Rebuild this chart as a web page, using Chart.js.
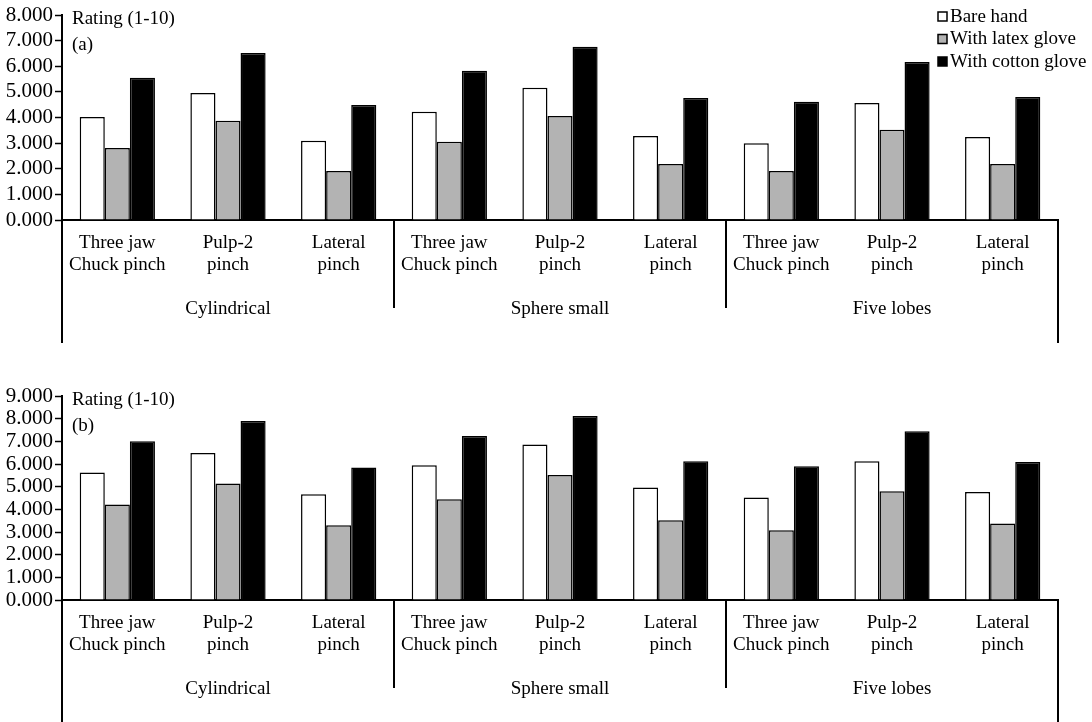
<!DOCTYPE html>
<html lang="en">
<head>
<meta charset="UTF-8">
<title>Rating (1-10)</title>
<script src="https://cdn.jsdelivr.net/npm/chart.js@4"></script>
<style>
  body { margin: 0; background: #fff; }
  canvas { display: block; }
</style>
</head>
<body>
<canvas id="chartA" width="1092" height="360"></canvas>
<canvas id="chartB" width="1092" height="362"></canvas>
<script>
    // grip types, repeated under each object
    const grips = [['Three jaw', 'Chuck pinch'], ['Pulp-2', 'pinch'], ['Lateral', 'pinch']];
    const objects = ['Cylindrical', 'Sphere small', 'Five lobes'];
    const seriesNames = ['Bare hand', 'With latex glove', 'With cotton glove'];

    // panel (a)
    const bareA   = [4.02, 4.96, 3.09, 4.22, 5.16, 3.28, 3.00, 4.57, 3.24];
    const latexA  = [2.81, 3.87, 1.91, 3.05, 4.06, 2.19, 1.91, 3.52, 2.19];
    const cottonA = [5.55, 6.52, 4.49, 5.82, 6.76, 4.76, 4.61, 6.17, 4.80];

    // panel (b)
    const bareB   = [5.63, 6.49, 4.66, 5.95, 6.86, 4.96, 4.52, 6.12, 4.77];
    const latexB  = [4.21, 5.14, 3.30, 4.45, 5.51, 3.52, 3.08, 4.80, 3.38];
    const cottonB = [7.00, 7.90, 5.85, 7.24, 8.12, 6.12, 5.90, 7.44, 6.09];

    const yMaxA = 8;
    const yMaxB = 9;

    const fills = ['#ffffff', '#b3b3b3', '#000000'];
    const labels = objects.flatMap(() => grips);
    const FONT = '"Liberation Serif", "Times New Roman", serif';

    // extra drawing: group names, dividers, panel caption, legend
    const decorations = {
        id: 'decorations',
        afterDraw(chart, args, opts) {
            const ctx = chart.ctx;
            const a = chart.chartArea;
            const x = chart.scales.x;
            ctx.save();
            ctx.strokeStyle = '#000';
            ctx.lineWidth = 2;
            ctx.beginPath();
            ctx.moveTo(a.left, a.bottom);
            ctx.lineTo(a.left, a.bottom + opts.outerDrop);
            ctx.moveTo(a.right, a.bottom);
            ctx.lineTo(a.right, a.bottom + opts.outerDrop);
            [3, 6].forEach(i => {
                const px = Math.round((x.getPixelForValue(i - 1) + x.getPixelForValue(i)) / 2);
                ctx.moveTo(px, a.bottom);
                ctx.lineTo(px, a.bottom + 88);
            });
            ctx.stroke();

            ctx.fillStyle = '#000';
            ctx.font = '19px ' + FONT;
            ctx.textAlign = 'center';
            ctx.textBaseline = 'middle';
            objects.forEach((name, g) => {
                ctx.fillText(name, x.getPixelForValue(g * 3 + 1), a.bottom + 89);
            });

            ctx.textAlign = 'left';
            ctx.fillText('Rating (1-10)', a.left + 10, a.top + 4);
            ctx.fillText(opts.tag, a.left + 10, a.top + 30);

            if (opts.legend) {
                chart.data.datasets.forEach((ds, i) => {
                    const cy = 17 + i * 22.5;
                    ctx.fillStyle = ds.backgroundColor;
                    ctx.fillRect(938, cy - 5, 9, 9);
                    ctx.lineWidth = 1.5;
                    ctx.strokeRect(938, cy - 5, 9, 9);
                    ctx.fillStyle = '#000';
                    ctx.fillText(ds.label, 950, cy);
                });
            }
            ctx.restore();
        }
    };

    function makeChart(id, series, yMax, tag, topPad, xHeight, outerDrop, legend) {
        return new Chart(document.getElementById(id), {
            type: 'bar',
            data: {
                labels: labels,
                datasets: series.map((values, i) => ({
                    label: seriesNames[i],
                    data: values,
                    backgroundColor: fills[i],
                    borderColor: '#000',
                    borderWidth: 1.5,
                    categoryPercentage: 0.68,
                    barPercentage: 1.0
                }))
            },
            options: {
                responsive: false,
                animation: false,
                layout: { padding: { top: topPad, right: 34, left: 0, bottom: 0 } },
                plugins: {
                    legend: { display: false },
                    tooltip: { enabled: false },
                    decorations: { tag: tag, outerDrop: outerDrop, legend: legend }
                },
                scales: {
                    x: {
                        offset: true,
                        grid: { drawOnChartArea: false, drawTicks: false, offset: true },
                        border: { color: '#000', width: 2 },
                        ticks: {
                            autoSkip: false,
                            maxRotation: 0,
                            padding: 12,
                            color: '#000',
                            font: { family: FONT, size: 19, lineHeight: 1.15 }
                        },
                        afterFit: scale => { scale.height = xHeight; }
                    },
                    y: {
                        min: 0,
                        max: yMax,
                        grid: { drawOnChartArea: false, drawTicks: true, tickLength: 7, tickColor: '#000', tickWidth: 1.5 },
                        border: { color: '#000', width: 2 },
                        ticks: {
                            stepSize: 1,
                            autoSkip: false,
                            padding: 2,
                            color: '#000',
                            font: { family: FONT, size: 21 },
                            callback: v => v.toFixed(3)
                        },
                        afterFit: scale => { scale.width = 62; }
                    }
                }
            },
            plugins: [decorations]
        });
    }

    makeChart('chartA', [bareA, latexA, cottonA], yMaxA, '(a)', 15, 140, 123, true);
    makeChart('chartB', [bareB, latexB, cottonB], yMaxB, '(b)', 36, 122, 122, false);
</script>
</body>
</html>
